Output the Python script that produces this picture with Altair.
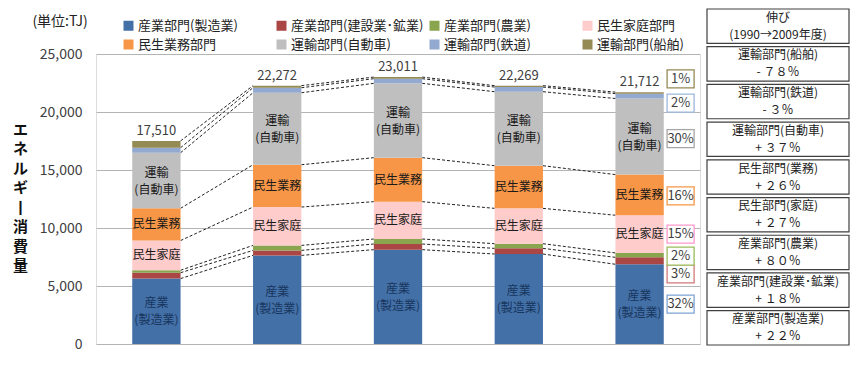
import altair as alt
import pandas as pd

FONT = "Noto Sans CJK JP"

years = ["H2", "H18", "H19", "H20", "H21"]
series = ["産業部門(製造業)", "産業部門(建設業･鉱業)", "産業部門(農業)", "民生家庭部門",
          "民生業務部門", "運輸部門(自動車)", "運輸部門(鉄道)", "運輸部門(船舶)"]
colors = ["#4470A8", "#AA4643", "#89A54E", "#FFCCCC", "#F79646", "#BFBFBF", "#93A9CF", "#948A54"]
border_colors = ["#7FA3D6", "#D07A78", "#9BBB59", "#FF99CC", "#F79646", "#A6A6A6", "#9DB7DE", "#948A54"]

mfg = [5638, 7640, 8133, 7756, 6870]
constr = [508, 430, 488, 488, 600]
agri = [211, 430, 431, 402, 380]
household = [2559, 3305, 3218, 3046, 3250]
business = [2782, 3650, 3793, 3678, 3505]
auto = [4788, 6207, 6408, 6379, 6557]
rail = [433, 430, 400, 400, 420]
ship = [591, 180, 140, 120, 130]
totals = [17510, 22272, 23011, 22269, 21712]

seg_labels = ["産業\n(製造業)", "", "", "民生家庭", "民生業務", "運輸\n(自動車)", "", ""]
share_labels = ["32%", "3%", "2%", "15%", "16%", "30%", "2%", "1%"]
share_nudge_px = [0, 13, 1, 0, 1, 2, 7, -14]

table_top = ["伸び", "運輸部門(船舶)", "運輸部門(鉄道)", "運輸部門(自動車)", "民生部門(業務)",
             "民生部門(家庭)", "産業部門(農業)", "産業部門(建設業･鉱業)", "産業部門(製造業)"]
table_bottom = ["(1990→2009年度)", "- ７８％", "- ３％", "+ ３７％", "+ ２６％", "+ ２７％",
                "+ ８０％", "+ １８％", "+ ２２％"]

values = [mfg, constr, agri, household, business, auto, rail, ship]

# long table with stacked extents
rows = []
for i, yr in enumerate(years):
    cum = 0
    for j, s in enumerate(series):
        v = values[j][i]
        rows.append(dict(year=yr, series=s, order=j, start=cum, end=cum + v,
                         mid=cum + v / 2, label=seg_labels[j], value=v))
        cum += v
df = pd.DataFrame(rows)

line_rows = []
for i in range(len(years) - 1):
    for j, s in enumerate(series):
        a = df[(df.year == years[i]) & (df.series == s)].iloc[0]
        b = df[(df.year == years[i + 1]) & (df.series == s)].iloc[0]
        line_rows.append(dict(year=years[i], nxt=years[i + 1], y0=a.end, y1=b.end))
df_lines = pd.DataFrame(line_rows)

df_tot = pd.DataFrame(dict(year=years, total=totals,
                           label=[f"{t:,}" for t in totals]))

last = df[df.year == years[-1]].copy().reset_index(drop=True)
last["share"] = share_labels
last["ly"] = [m - n * 25000 / 290 for m, n in zip(last["mid"], share_nudge_px)]
last["border"] = border_colors
df_share = last

df_table = pd.DataFrame(dict(row=list(range(9)), top=table_top, bottom=table_bottom))
df_unit = pd.DataFrame(dict(t=["(単位:TJ)"]))

xscale = alt.Scale(domain=years, paddingInner=0.6, paddingOuter=0.3)
yscale = alt.Scale(domain=[0, 25000])

xenc = alt.X("year:N", scale=xscale, sort=years,
             axis=alt.Axis(title=None, labelAngle=0, labelFontSize=14, labelColor="#222",
                           labelFont=FONT, ticks=False, domain=False, labelPadding=8))
yenc_axis = alt.Axis(values=[0, 5000, 10000, 15000, 20000, 25000], format=",.0f",
                     labelFontSize=14, labelColor="#404040", labelFont=FONT,
                     ticks=False, domain=False, labelPadding=14,
                     gridColor="#B4B4B4",
                     title=["エ", "ネ", "ル", "ギ", "丨", "消", "費", "量"],
                     titleAngle=0, titleFontSize=15, titleFontWeight="bold", titleFont=FONT,
                     titleColor="#111", titleX=-76, titleY=68, titleAlign="center",
                     titleBaseline="top", titleLineHeight=19.5)

rules = alt.Chart(df_lines).mark_rule(strokeDash=[3, 2], color="#222", strokeWidth=1).encode(
    x=alt.X("year:N", scale=xscale, sort=years, bandPosition=1, axis=None),
    x2=alt.X2("nxt", bandPosition=0),
    y=alt.Y("y0:Q", scale=yscale, axis=yenc_axis),
    y2="y1",
)

bars = alt.Chart(df).mark_bar().encode(
    x=xenc,
    y=alt.Y("start:Q", scale=yscale, axis=yenc_axis),
    y2="end",
    color=alt.Color("series:N", scale=alt.Scale(domain=series, range=colors),
                    legend=alt.Legend(orient="none", legendX=26, legendY=-35, columns=4,
                                      direction="horizontal",
                                      title=None, symbolType="square", symbolSize=100,
                                      symbolStrokeWidth=0, labelFontSize=13, labelFont=FONT,
                                      labelColor="#222", rowPadding=5, columnPadding=4,
                                      gridAlign="all", labelOffset=3, labelLimit=300)),
)

seg_mfg = alt.Chart(df[df.order == 0]).mark_text(
    fontSize=12, font=FONT, color="#17365D", lineBreak="\n", lineHeight=17, dy=-8).encode(
    x=alt.X("year:N", scale=xscale, sort=years), y=alt.Y("mid:Q", scale=yscale), text="label:N")
seg_one = alt.Chart(df[df.order.isin([3, 4])]).mark_text(
    fontSize=12, font=FONT, color="#1a1a1a").encode(
    x=alt.X("year:N", scale=xscale, sort=years), y=alt.Y("mid:Q", scale=yscale), text="label:N")
seg_two = alt.Chart(df[df.order == 5]).mark_text(
    fontSize=12, font=FONT, color="#1a1a1a", lineBreak="\n", lineHeight=17, dy=-8).encode(
    x=alt.X("year:N", scale=xscale, sort=years), y=alt.Y("mid:Q", scale=yscale), text="label:N")

tot = alt.Chart(df_tot).mark_text(fontSize=13, font=FONT, color="#404040", dy=-10).encode(
    x=alt.X("year:N", scale=xscale, sort=years), y=alt.Y("total:Q", scale=yscale), text="label:N")

box_shape = "M-1.5,-1L1.5,-1L1.5,1L-1.5,1Z"
share_box = alt.Chart(df_share).mark_point(shape=box_shape, size=324, filled=True, fill="white",
                                           strokeWidth=1.3, opacity=1, xOffset=41).encode(
    x=alt.X("year:N", scale=xscale, sort=years), y=alt.Y("ly:Q", scale=yscale),
    stroke=alt.Stroke("border:N", scale=None))
share_txt = alt.Chart(df_share).mark_text(fontSize=13, font=FONT, color="#404040", dx=41).encode(
    x=alt.X("year:N", scale=xscale, sort=years), y=alt.Y("ly:Q", scale=yscale), text="share:N")

main = alt.layer(rules, bars, seg_mfg, seg_one, seg_two, tot, share_box, share_txt)

tscale = alt.Scale(range=[-45, 291], paddingInner=0.09, paddingOuter=0)
table_rect = alt.Chart(df_table).mark_rect(fill="white", stroke="#404040", strokeWidth=1.2).encode(
    x=alt.value(611), x2=alt.value(753),
    y=alt.Y("row:O", scale=tscale, axis=None))
table_text1 = alt.Chart(df_table).mark_text(fontSize=12, font=FONT, color="#222", dy=-8.5).encode(
    x=alt.value(682), y=alt.Y("row:O", scale=tscale, axis=None), text="top:N")
table_text2 = alt.Chart(df_table).mark_text(fontSize=12, font=FONT, color="#222", dy=8.5).encode(
    x=alt.value(682), y=alt.Y("row:O", scale=tscale, axis=None), text="bottom:N")
unit = alt.Chart(df_unit).mark_text(fontSize=14, font=FONT, color="#222").encode(
    x=alt.value(-36), y=alt.value(-32), text="t:N")

side = alt.layer(table_rect, table_text1, table_text2, unit)

chart = alt.layer(main, side).resolve_scale(y="independent").properties(
    width=604, height=290,
    autosize=alt.AutoSizeParams(type="none"),
    padding={"left": 96, "top": 54, "right": 152, "bottom": 30},
).configure_view(stroke="#8C8C8C", strokeWidth=1).configure(font=FONT)

chart.save("out.html", embed_options={"renderer": "svg", "actions": False})
